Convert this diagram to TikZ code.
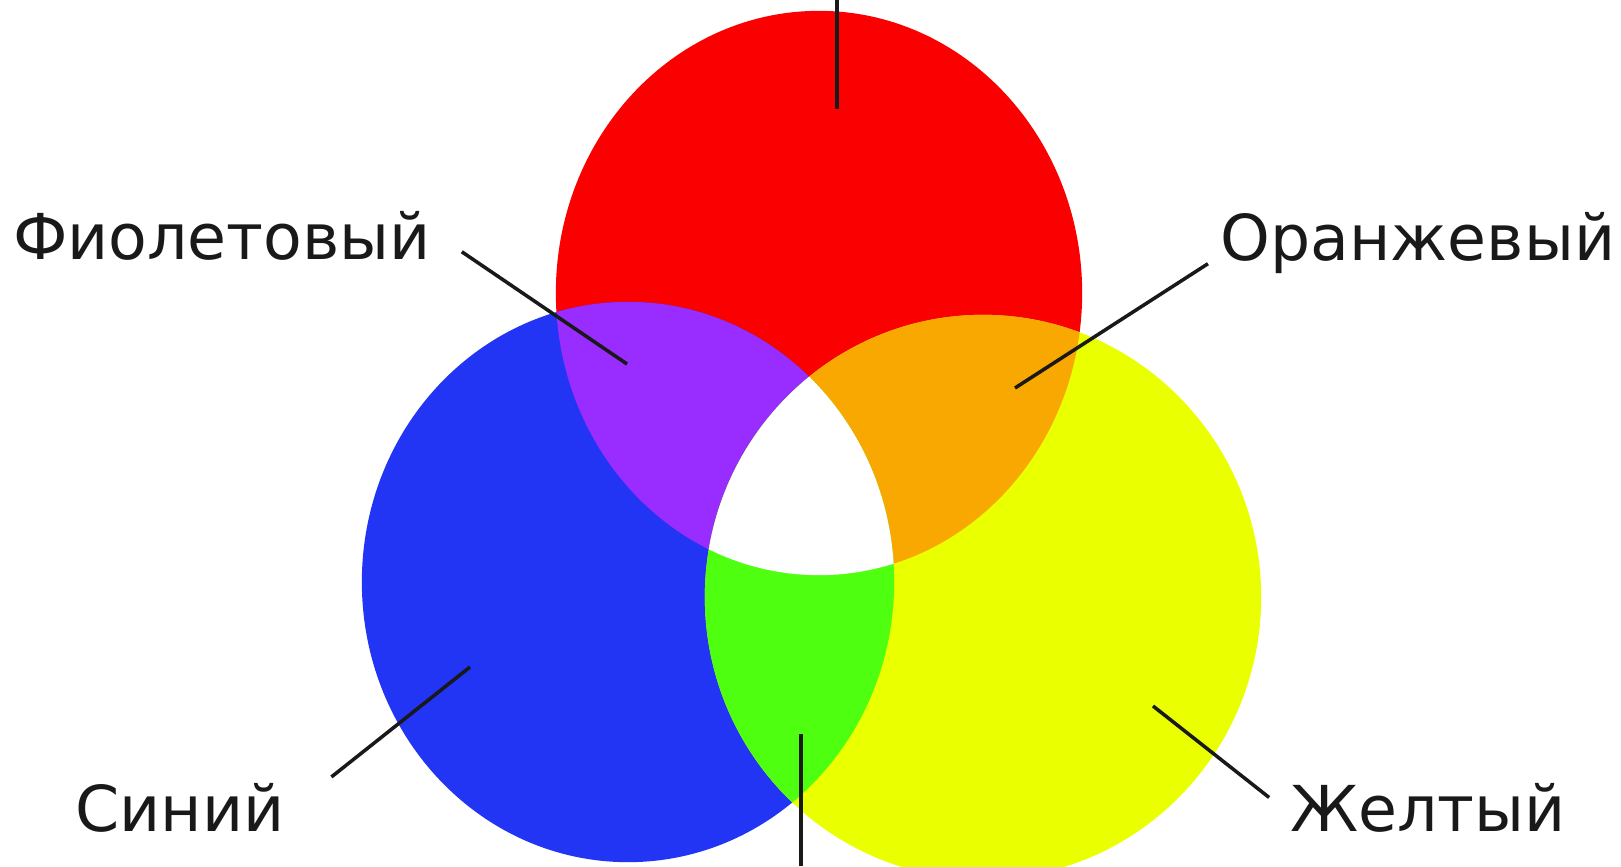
\documentclass[tikz,border=0pt]{standalone}
\usepackage{fontspec}
\setmainfont{DejaVu Sans}
\usepackage{xcolor}

\definecolor{cred}{RGB}{250,0,0}
\definecolor{cblue}{RGB}{34,52,244}
\definecolor{cyel}{RGB}{234,255,0}
\definecolor{cviol}{RGB}{153,44,255}
\definecolor{coran}{RGB}{248,168,0}
\definecolor{cgreen}{RGB}{78,255,16}

% the three discs, in pixel units of the picture
\newcommand{\redpath}{(819,293) ellipse [x radius=2.63cm, y radius=2.82cm]}
\newcommand{\bluepath}{(628,582) ellipse [x radius=2.66cm, y radius=2.80cm]}
\newcommand{\yelpath}{(983,597) ellipse [x radius=2.78cm, y radius=2.82cm]}

\begin{document}
\begin{tikzpicture}[
    x=0.01cm, y=-0.01cm,
    every node/.style={font=\fontsize{18}{20}\selectfont},
    lbl/.style={inner sep=2pt, text=black!90},
    leader/.style={line width=1pt, black!90}
]
\useasboundingbox (0,0) rectangle (1621,866);
\clip (0,0) rectangle (1621,866);
\fill[white] (0,0) rectangle (1621,866);

% Discs
\fill[cred]  \redpath;
\fill[cblue] \bluepath;
\fill[cyel]  \yelpath;

% Mixes
\begin{scope}
  \clip \redpath;
  \fill[cviol] \bluepath;
  \fill[coran] \yelpath;
\end{scope}
\begin{scope}
  \clip \bluepath;
  \fill[cgreen] \yelpath;
\end{scope}
\begin{scope}
  \clip \redpath;
  \clip \bluepath;
  \fill[white] \yelpath;
\end{scope}

% Labels
\node[lbl] (fiol) at (222,236) {Фиолетовый};
\node[lbl] (oran) at (1418,243) {Оранжевый};
\node[lbl] (sin)  at (180,808) {Синий};
\node[lbl] (zhel) at (1428,808) {Желтый};

% Ends of the leaders
\coordinate (pviol)    at (627,364);
\coordinate (poran)    at (1015,388);
\coordinate (pblue)    at (470,667);
\coordinate (pyel)     at (1153,706);
\coordinate (redtop)   at (837,0);
\coordinate (pred)     at (837,109);
\coordinate (greenbot) at (801,866);
\coordinate (pgreen)   at (801,734);

% Leaders
\draw[leader, shorten <=0.28cm] (fiol.east)      -- (pviol);
\draw[leader, shorten <=0.06cm] (oran.base west) -- (poran);
\draw[leader, shorten <=0.5cm]  (sin.east)       -- (pblue);
\draw[leader, shorten <=0.17cm] (zhel.west)      -- (pyel);
\draw[leader] (redtop)   -- (pred);
\draw[leader] (greenbot) -- (pgreen);

\end{tikzpicture}
\end{document}
